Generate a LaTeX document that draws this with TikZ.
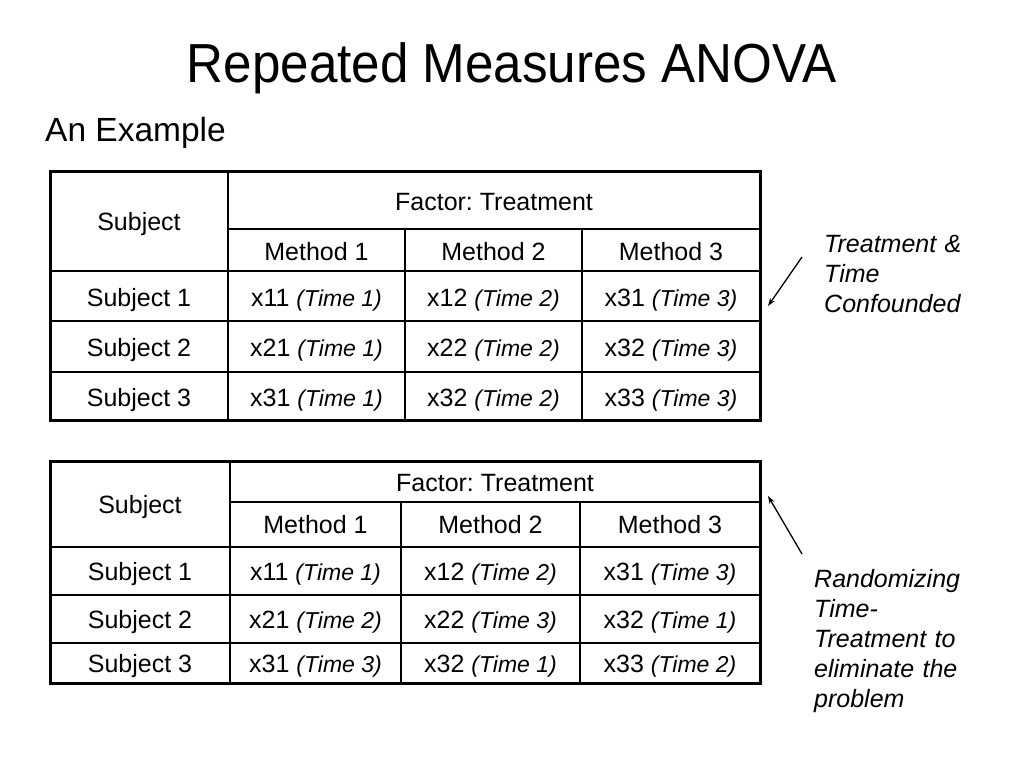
\documentclass[tikz,border=0pt]{standalone}
\usepackage{fontspec}
\setmainfont{Liberation Sans}
\usetikzlibrary{arrows.meta}
\newcommand\tmlab[1]{{\fontsize{23}{27}\selectfont\itshape(Time #1)}}
\begin{document}
\frenchspacing
\begin{tikzpicture}[x=1pt,y=-1pt,
  cell/.style={font=\fontsize{25}{30}\selectfont, inner sep=0pt, anchor=base},
  note/.style={font=\fontsize{25}{30}\selectfont\itshape, inner sep=0pt, anchor=base west, text width=170pt, align=left},
  outerline/.style={line width=3pt},
  innerline/.style={line width=1.5pt},
  pointer/.style={line width=1.3pt, -{Stealth[length=8pt,width=5.5pt]}}]
\fill[white] (0,0) rectangle (1024,768);
\useasboundingbox (0,0) rectangle (1024,768);

% titles
\node[inner sep=0pt, anchor=base] (title) at (512,82) {\scalebox{0.93}[1]{\fontsize{55}{60}\selectfont Repeated Measures ANOVA}};
\node[inner sep=0pt, anchor=base west] (sub) at (45,141) {\fontsize{33.5}{40}\selectfont An Example};

% ---------- table 1 ----------
\draw[innerline] (228,171) -- (228,420);
\draw[innerline] (405,229) -- (405,420);
\draw[innerline] (582,229) -- (582,420);
\draw[innerline] (228,229) -- (760,229);
\draw[innerline] (50,271) -- (760,271);
\draw[innerline] (50,321) -- (760,321);
\draw[innerline] (50,372) -- (760,372);
\draw[outerline] (50,171) rectangle (760,420);

\node[cell] (a-subj) at (139,230) {Subject};
\node[cell] (a-fac) at (494,210) {Factor: Treatment};
\node[cell] (a-m1) at (316.5,260) {Method 1};
\node[cell] (a-m2) at (493.5,260) {Method 2};
\node[cell] (a-m3) at (671,260) {Method 3};
\node[cell] (a-s1) at (139,306) {Subject 1};
\node[cell] (a-s2) at (139,356.5) {Subject 2};
\node[cell] (a-s3) at (139,406.5) {Subject 3};
\node[cell] (a-11) at (316.5,306) {x11 \tmlab{1}};
\node[cell] (a-12) at (493.5,306) {x12 \tmlab{2}};
\node[cell] (a-13) at (671,306) {x31 \tmlab{3}};
\node[cell] (a-21) at (316.5,356.5) {x21 \tmlab{1}};
\node[cell] (a-22) at (493.5,356.5) {x22 \tmlab{2}};
\node[cell] (a-23) at (671,356.5) {x32 \tmlab{3}};
\node[cell] (a-31) at (316.5,406.5) {x31 \tmlab{1}};
\node[cell] (a-32) at (493.5,406.5) {x32 \tmlab{2}};
\node[cell] (a-33) at (671,406.5) {x33 \tmlab{3}};

% ---------- table 2 ----------
\draw[innerline] (230,461) -- (230,683);
\draw[innerline] (401,502) -- (401,683);
\draw[innerline] (580,502) -- (580,683);
\draw[innerline] (230,502) -- (760,502);
\draw[innerline] (50,547) -- (760,547);
\draw[innerline] (50,595) -- (760,595);
\draw[innerline] (50,643) -- (760,643);
\draw[outerline] (50,461) rectangle (760,683);

\node[cell] (b-subj) at (140,513) {Subject};
\node[cell] (b-fac) at (495,491) {Factor: Treatment};
\node[cell] (b-m1) at (315.5,533) {Method 1};
\node[cell] (b-m2) at (490.5,533) {Method 2};
\node[cell] (b-m3) at (670,533) {Method 3};
\node[cell] (b-s1) at (140,580) {Subject 1};
\node[cell] (b-s2) at (140,628) {Subject 2};
\node[cell] (b-s3) at (140,672) {Subject 3};
\node[cell] (b-11) at (315.5,580) {x11 \tmlab{1}};
\node[cell] (b-12) at (490.5,580) {x12 \tmlab{2}};
\node[cell] (b-13) at (670,580) {x31 \tmlab{3}};
\node[cell] (b-21) at (315.5,628) {x21 \tmlab{2}};
\node[cell] (b-22) at (490.5,628) {x22 \tmlab{3}};
\node[cell] (b-23) at (670,628) {x32 \tmlab{1}};
\node[cell] (b-31) at (315.5,672) {x31 \tmlab{3}};
\node[cell] (b-32) at (490.5,672) {x32 \tmlab{1}};
\node[cell] (b-33) at (670,672) {x33 \tmlab{2}};

% ---------- notes ----------
\node[note] (n1) at (824,252) {Treatment \&\\Time\\Confounded};
\node[note] (n2) at (814,587) {Randomizing\\Time-\\Treatment to\\eliminate the\\problem};

\coordinate (p1s) at (802,257);
\coordinate (p1e) at (768,306);
\coordinate (p2s) at (802,554);
\coordinate (p2e) at (768,496);
\draw[pointer] (p1s) -- (p1e);
\draw[pointer] (p2s) -- (p2e);
\end{tikzpicture}
\end{document}
